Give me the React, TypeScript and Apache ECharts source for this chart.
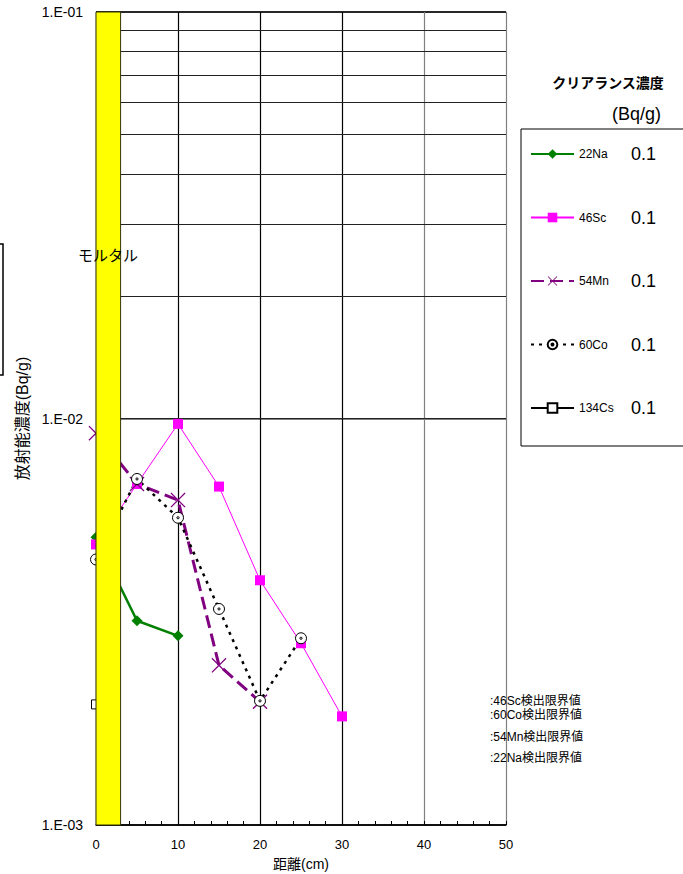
import React, { useEffect, useRef } from "react";
import * as echarts from "echarts";

// distances (cm)
const distances = [0, 5, 10, 15, 20, 25, 30];
// nuclide names
const nuclides = ["22Na", "46Sc", "54Mn", "60Co", "134Cs"];
// clearance levels (Bq/g)
const clearance = ["0.1", "0.1", "0.1", "0.1", "0.1"];
// concentrations (Bq/g)
const na22 = [0.0051, 0.00318, 0.00292];
const sc46 = [0.0049, 0.0069, 0.0097, 0.0068, 0.004, 0.0028, 0.00185];
const mn54 = [0.0092, 0.0069, 0.0063, 0.00247, 0.00201];
const co60 = [0.0045, 0.0071, 0.0057, 0.0034, 0.00202, 0.00288];
const cs134 = [0.00198];
// minor log grid lines
const minorGrid = [
  0.002, 0.003, 0.004, 0.005, 0.006, 0.007, 0.008, 0.009,
  0.02, 0.03, 0.04, 0.05, 0.06, 0.07, 0.08, 0.09,
];
// mortar layer extent (cm)
const mortar = [0, 3];
// detection limit notes
const limitNotes = [":46Sc検出限界値", ":60Co検出限界値", ":54Mn検出限界値", ":22Na検出限界値"];

const LAT = "'Liberation Sans', Arial, sans-serif";
const NARROW = "'Liberation Sans Narrow', 'Liberation Sans', Arial, sans-serif";
const CJK = "'Liberation Sans', 'Noto Sans CJK JP', sans-serif";

const xMark =
  "path://M0,0.6L0.6,0L5,4.4L9.4,0L10,0.6L5.6,5L10,9.4L9.4,10L5,5.6L0.6,10L0,9.4L4.4,5Z";
const dotCircle =
  "path://M0,5A5,5 0 1,1 10,5A5,5 0 1,1 0,5ZM4,5A1,1 0 1,1 6,5A1,1 0 1,1 4,5Z";

const toPairs = (vals: number[]) => vals.map((v, i) => [distances[i], v]);

export default function App() {
  const ref = useRef<HTMLDivElement>(null);
  useEffect(() => {
    if (!ref.current) return;
    const chart = echarts.init(ref.current, null, { renderer: "svg" });
    const option: any = {
      animation: false,
      backgroundColor: "#fff",
      grid: {
        left: 96,
        top: 12,
        width: 410,
        height: 813,
        containLabel: false,
        outerBoundsMode: "none",
      },
      xAxis: {
        type: "value",
        min: 0,
        max: 50,
        interval: 10,
        name: "距離(cm)",
        nameLocation: "middle",
        nameGap: 32,
        nameTextStyle: { fontSize: 14, color: "#000", fontFamily: CJK },
        axisLine: { show: true, lineStyle: { color: "#000", width: 1.5 } },
        axisTick: { show: true, inside: true, length: 4, lineStyle: { color: "#000" } },
        minorTick: { show: true, splitNumber: 5, length: 4, lineStyle: { color: "#000" } },
        axisLabel: { fontSize: 13, color: "#000", margin: 13, fontFamily: LAT },
        splitLine: {
          show: true,
          lineStyle: {
            color: ["#000", "#000", "#000", "#000", "#808080", "#808080"],
            width: 1.2,
          },
        },
      },
      yAxis: {
        type: "log",
        logBase: 10,
        min: 0.001,
        max: 0.1,
        name: "放射能濃度(Bq/g)",
        nameLocation: "middle",
        nameRotate: 90,
        nameGap: 66,
        nameTextStyle: { fontSize: 16, color: "#000", fontFamily: CJK },
        axisLine: { show: true, lineStyle: { color: "#000" } },
        axisTick: { show: false },
        axisLabel: {
          fontSize: 14,
          color: "#000",
          margin: 13,
          fontFamily: LAT,
          formatter: (v: number) => {
            const e = Math.round(Math.log10(v));
            return "1.E-" + String(-e).padStart(2, "0");
          },
        },
        splitLine: {
          show: true,
          lineStyle: { color: ["#000", "#555", "#808080"], width: 1.5 },
        },
      },
      legend: {
        orient: "vertical",
        left: 525,
        top: 140,
        itemWidth: 43,
        itemHeight: 12,
        itemGap: 45.5,
        selectedMode: false,
        data: nuclides,
        formatter: (name: string) =>
          `{n|${name}}{v|${clearance[nuclides.indexOf(name)]}}`,
        textStyle: {
          rich: {
            n: { fontSize: 12, width: 52, lineHeight: 20, fontFamily: NARROW, color: "#000" },
            v: { fontSize: 18, lineHeight: 20, fontFamily: LAT, color: "#000" },
          },
        },
      },
      series: [
        {
          name: "gridlines",
          type: "line",
          data: [],
          z: 1,
          silent: true,
          markLine: {
            z: 1,
            silent: true,
            symbol: "none",
            label: { show: false },
            lineStyle: { color: "#222", width: 1, type: "solid" },
            data: minorGrid.map((v) => ({ yAxis: v })),
          },
        },
        {
          name: "22Na",
          type: "line",
          data: toPairs(na22),
          symbol: "diamond",
          symbolSize: 11,
          lineStyle: { color: "#008000", width: 2.5 },
          itemStyle: { color: "#008000" },
        },
        {
          name: "46Sc",
          type: "line",
          data: toPairs(sc46),
          symbol: "rect",
          symbolSize: 10,
          lineStyle: { color: "#FF00FF", width: 1 },
          itemStyle: { color: "#FF00FF" },
        },
        {
          name: "54Mn",
          type: "line",
          data: toPairs(mn54),
          symbol: xMark,
          symbolSize: 15,
          lineStyle: { color: "#800080", width: 3, type: [13, 6] },
          itemStyle: { color: "#800080" },
        },
        {
          name: "60Co",
          type: "line",
          data: toPairs(co60),
          symbol: dotCircle,
          symbolSize: 11,
          lineStyle: { color: "#000", width: 2.5, type: [3, 5] },
          itemStyle: { color: "#fff", borderColor: "#000", borderWidth: 1 },
        },
        {
          name: "134Cs",
          type: "line",
          data: toPairs(cs134),
          symbol: "rect",
          symbolSize: 9,
          lineStyle: { color: "#000", width: 1 },
          itemStyle: { color: "#fff", borderColor: "#000", borderWidth: 1 },
        },
        {
          name: "mortar",
          type: "line",
          data: [],
          z: 10,
          silent: true,
          markArea: {
            z: 10,
            silent: true,
            itemStyle: { color: "#FFFF00", borderColor: "#333300", borderWidth: 1 },
            data: [[{ xAxis: mortar[0] }, { xAxis: mortar[1] }]],
          },
        },
      ],
      graphic: [
        {
          type: "rect",
          z: 1,
          shape: { x: 521, y: 129, width: 200, height: 317 },
          style: { fill: "none", stroke: "#000", lineWidth: 1 },
        },
        {
          type: "rect",
          z: 1,
          shape: { x: -10, y: 244, width: 13, height: 131 },
          style: { fill: "none", stroke: "#000", lineWidth: 1.5 },
        },
        {
          type: "text",
          x: 608,
          y: 83,
          style: {
            text: "クリアランス濃度",
            fontSize: 14,
            fontWeight: "bold",
            fontFamily: CJK,
            fill: "#000",
            align: "center",
            verticalAlign: "middle",
          },
        },
        {
          type: "text",
          x: 661,
          y: 114,
          style: {
            text: "(Bq/g)",
            fontSize: 18,
            fontFamily: LAT,
            fill: "#000",
            align: "right",
            verticalAlign: "middle",
          },
        },
        {
          type: "text",
          x: 108,
          y: 255,
          z: 20,
          style: {
            text: "モルタル",
            fontSize: 15,
            fontFamily: CJK,
            fill: "#000",
            align: "center",
            verticalAlign: "middle",
          },
        },
        ...limitNotes.map((t, i) => ({
          type: "text",
          x: 490,
          y: [701, 715, 737, 758][i],
          z: 20,
          style: {
            text: t,
            fontSize: 12,
            fontFamily: CJK,
            fill: "#000",
            align: "left",
            verticalAlign: "middle",
          },
        })),
      ],
    };
    chart.setOption(option);
    return () => chart.dispose();
  }, []);
  return (
    <div
      ref={ref}
      style={{ position: "fixed", left: 0, top: 0, width: 683, height: 874 }}
    />
  );
}
